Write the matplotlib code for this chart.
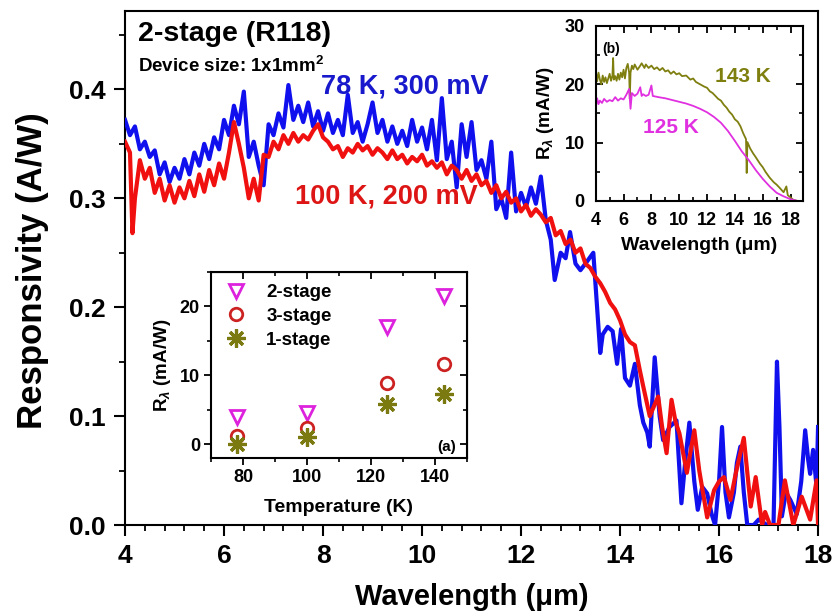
import matplotlib
matplotlib.use("Agg")
import matplotlib.pyplot as plt
from matplotlib.ticker import MultipleLocator, FixedLocator, NullFormatter

plt.rcParams['font.family'] = ['Liberation Sans', 'DejaVu Sans']
plt.rcParams['font.weight'] = 'bold'
plt.rcParams['mathtext.fontset'] = 'custom'
plt.rcParams['mathtext.rm'] = 'Liberation Sans:bold'
plt.rcParams['mathtext.it'] = 'Liberation Sans:bold:italic'
plt.rcParams['mathtext.bf'] = 'Liberation Sans:bold'

# ---------------- main spectra (A/W) ----------------
wl_78K = [4.0, 4.1, 4.2, 4.3, 4.4, 4.5, 4.6, 4.7, 4.8, 4.9, 5.0, 5.1, 5.2, 5.3, 5.4, 5.5,
          5.6, 5.7, 5.8, 5.9, 6.0, 6.1, 6.2, 6.3, 6.4, 6.5, 6.6, 6.7, 6.8, 6.9, 7.0, 7.1,
          7.2, 7.3, 7.4, 7.5, 7.6, 7.7, 7.8, 7.9, 8.0, 8.1, 8.2, 8.3, 8.4, 8.5, 8.6, 8.7,
          8.8, 8.9, 9.0, 9.1, 9.2, 9.3, 9.4, 9.5, 9.6, 9.7, 9.8, 9.9, 10.0, 10.1, 10.2,
          10.3, 10.4, 10.5, 10.6, 10.7, 10.8, 10.9, 11.0, 11.1, 11.2, 11.3, 11.4, 11.5,
          11.6, 11.7, 11.8, 11.9, 12.0, 12.1, 12.2, 12.3, 12.4, 12.5, 12.6, 12.68, 12.8,
          12.9, 12.99, 13.1, 13.2, 13.3, 13.46, 13.55, 13.6, 13.65, 13.75, 13.85, 13.94,
          14.02, 14.1, 14.2, 14.3, 14.4, 14.47, 14.55, 14.6, 14.7, 14.8, 14.87, 15.0,
          15.14, 15.24, 15.32, 15.4, 15.5, 15.57, 15.66, 15.76, 15.85, 15.92, 16.0, 16.06,
          16.13, 16.2, 16.3, 16.36, 16.43, 16.5, 16.57, 16.7, 16.8, 16.97, 17.1, 17.17,
          17.22, 17.27, 17.35, 17.44, 17.57, 17.66, 17.74, 17.8, 17.84, 17.9, 17.97, 18.0]
r_78K = [0.372, 0.358, 0.366, 0.345, 0.352, 0.338, 0.344, 0.322, 0.333, 0.315, 0.328, 0.318,
         0.336, 0.322, 0.342, 0.330, 0.350, 0.336, 0.356, 0.345, 0.372, 0.358, 0.385, 0.368,
         0.398, 0.338, 0.352, 0.330, 0.312, 0.368, 0.358, 0.378, 0.365, 0.404, 0.372, 0.385,
         0.370, 0.388, 0.366, 0.380, 0.362, 0.378, 0.360, 0.372, 0.358, 0.395, 0.360, 0.370,
         0.352, 0.368, 0.388, 0.360, 0.372, 0.352, 0.366, 0.350, 0.362, 0.348, 0.372, 0.352,
         0.365, 0.345, 0.372, 0.335, 0.392, 0.336, 0.352, 0.310, 0.368, 0.338, 0.370, 0.326,
         0.335, 0.318, 0.352, 0.290, 0.300, 0.282, 0.342, 0.288, 0.305, 0.292, 0.310, 0.295,
         0.320, 0.280, 0.262, 0.225, 0.250, 0.245, 0.269, 0.240, 0.234, 0.240, 0.250, 0.190,
         0.158, 0.175, 0.182, 0.178, 0.148, 0.180, 0.135, 0.128, 0.148, 0.110, 0.094, 0.085,
         0.072, 0.154, 0.100, 0.078, 0.090, 0.096, 0.020, 0.060, 0.094, 0.040, 0.014, 0.035,
         0.029, 0.010, 0.000, 0.040, 0.090, 0.030, 0.007, 0.030, 0.057, 0.072, 0.030, 0.000,
         0.000, 0.005, 0.000, 0.000, 0.150, 0.090, 0.008, 0.030, 0.023, 0.010, 0.040, 0.087,
         0.060, 0.047, 0.069, 0.035, 0.090]

wl_100K = [4.0, 4.1, 4.15, 4.2, 4.3, 4.4, 4.5, 4.6, 4.7, 4.8, 4.9, 5.0, 5.1, 5.2, 5.3, 5.4,
           5.5, 5.6, 5.7, 5.8, 5.9, 6.0, 6.1, 6.2, 6.3, 6.4, 6.5, 6.6, 6.7, 6.8, 6.9, 7.0,
           7.1, 7.2, 7.3, 7.4, 7.5, 7.6, 7.7, 7.8, 7.9, 8.0, 8.1, 8.2, 8.3, 8.4, 8.5, 8.6,
           8.7, 8.8, 8.9, 9.0, 9.1, 9.2, 9.3, 9.4, 9.5, 9.6, 9.7, 9.8, 9.9, 10.0, 10.1,
           10.2, 10.3, 10.4, 10.5, 10.6, 10.7, 10.8, 10.9, 11.0, 11.1, 11.2, 11.3, 11.4,
           11.5, 11.6, 11.7, 11.8, 11.9, 12.0, 12.1, 12.2, 12.3, 12.4, 12.5, 12.6, 12.7,
           12.8, 12.9, 13.0, 13.1, 13.2, 13.3, 13.4, 13.5, 13.6, 13.7, 13.8, 13.9, 14.0,
           14.1, 14.2, 14.3, 14.4, 14.47, 14.6, 14.77, 14.85, 14.94, 15.04, 15.12, 15.2,
           15.35, 15.5, 15.6, 15.76, 15.9, 16.0, 16.1, 16.23, 16.35, 16.5, 16.64, 16.74,
           16.87, 16.93, 17.03, 17.2, 17.33, 17.5, 17.67, 17.84, 17.97, 18.0]
r_100K = [0.352, 0.342, 0.268, 0.300, 0.335, 0.318, 0.328, 0.305, 0.318, 0.298, 0.312, 0.296,
          0.310, 0.300, 0.316, 0.302, 0.322, 0.306, 0.326, 0.312, 0.332, 0.318, 0.342, 0.370,
          0.350, 0.328, 0.300, 0.318, 0.298, 0.340, 0.338, 0.352, 0.345, 0.358, 0.350, 0.360,
          0.352, 0.358, 0.354, 0.362, 0.368, 0.356, 0.352, 0.345, 0.348, 0.338, 0.346, 0.342,
          0.350, 0.344, 0.348, 0.340, 0.346, 0.342, 0.336, 0.344, 0.336, 0.340, 0.332, 0.338,
          0.334, 0.340, 0.330, 0.334, 0.328, 0.333, 0.322, 0.330, 0.326, 0.318, 0.326, 0.316,
          0.322, 0.312, 0.316, 0.305, 0.312, 0.300, 0.306, 0.296, 0.300, 0.288, 0.294, 0.284,
          0.290, 0.285, 0.278, 0.282, 0.266, 0.270, 0.258, 0.262, 0.250, 0.254, 0.240, 0.236,
          0.228, 0.222, 0.214, 0.204, 0.198, 0.188, 0.175, 0.168, 0.165, 0.142, 0.127, 0.100,
          0.118, 0.090, 0.066, 0.115, 0.095, 0.084, 0.048, 0.087, 0.050, 0.007, 0.032, 0.040,
          0.044, 0.023, 0.050, 0.080, 0.017, 0.044, 0.000, 0.012, 0.000, 0.000, 0.041, 0.000,
          0.026, 0.005, 0.041, 0.000]

# ---------------- inset (a): responsivity vs temperature (mA/W) ----------------
temps = [78, 100, 125, 143]
r_2stage = [4.0, 4.5, 17.0, 21.5]
r_3stage = [1.2, 2.3, 8.9, 11.7]
r_1stage = [0.0, 1.1, 5.9, 7.3]

# ---------------- inset (b): 1-stage spectra (mA/W) ----------------
wl_143K = [4.0, 4.1, 4.2, 4.3, 4.4, 4.5, 4.6, 4.7, 4.8, 4.9, 5.0, 5.1, 5.2, 5.25, 5.3, 5.4,
           5.5, 5.6, 5.7, 5.8, 5.9, 6.0, 6.1, 6.2, 6.3, 6.4, 6.45, 6.5, 6.6, 6.7, 6.8,
           7.0, 7.2, 7.3, 7.5, 7.6, 7.8, 8.0, 8.2, 8.4, 8.6, 8.8, 9.0, 9.2, 9.4, 9.6, 9.8,
           10.0, 10.2, 10.5, 10.8, 11.0, 11.2, 11.5, 11.8, 12.0, 12.2, 12.4, 12.6, 12.8,
           13.0, 13.2, 13.4, 13.6, 13.8, 14.0, 14.2, 14.4, 14.6, 14.8, 14.85, 14.9, 15.1,
           15.3, 15.5, 15.8, 16.0, 16.2, 16.5, 16.8, 17.0, 17.2, 17.5, 17.7, 17.8, 18.0,
           18.2, 18.5, 18.9]
r_143K = [22.5, 20.5, 22.0, 20.8, 20.0, 21.5, 20.4, 21.2, 20.2, 21.0, 21.8, 20.6, 21.5, 24.5,
          20.8, 21.4, 20.6, 21.8, 20.8, 22.0, 21.2, 22.5, 21.0, 22.8, 23.5, 22.0, 17.5, 22.0,
          23.2, 22.6, 23.4, 22.5, 23.2, 23.6, 22.8, 23.4, 22.8, 23.2, 22.6, 22.9, 22.4, 22.8,
          22.2, 22.4, 21.8, 22.2, 21.7, 21.9, 21.4, 21.5, 20.8, 21.0, 20.4, 20.0, 19.6, 19.4,
          18.8, 18.5, 18.0, 17.5, 17.2, 16.5, 16.0, 15.3, 14.8, 14.0, 13.6, 12.8, 11.6, 10.6,
          4.8, 10.1, 9.0, 8.2, 7.5, 6.4, 5.8, 5.0, 4.0, 3.2, 2.8, 2.3, 1.5, 2.5, 1.0, 0.6,
          0.2, 0.0, 0.0]

wl_125K = [4.0, 4.1, 4.2, 4.3, 4.45, 4.6, 4.8, 5.0, 5.2, 5.4, 5.6, 5.8, 6.0, 6.2, 6.4, 6.5,
           6.6, 6.8, 7.0, 7.2, 7.3, 7.4, 7.6, 7.8, 8.0, 8.1, 8.3, 8.5, 9.0, 9.5, 10.0, 10.5,
           11.0, 11.5, 12.0, 12.5, 13.0, 13.5, 14.0, 14.5, 15.0, 15.5, 16.0, 16.5, 17.0,
           17.5, 18.0, 18.5, 18.9]
r_125K = [16.0, 17.6, 16.6, 17.2, 16.8, 17.5, 17.0, 17.3, 17.1, 17.8, 17.2, 17.6, 17.4, 18.2,
          19.2, 15.8, 18.5, 18.0, 18.4, 19.5, 18.0, 18.3, 18.0, 18.2, 19.8, 18.0, 17.9, 17.8,
          17.6, 17.3, 17.0, 16.7, 16.3, 15.8, 15.2, 14.4, 13.4, 12.0, 10.3, 8.5, 7.0, 5.3,
          3.8, 2.5, 1.4, 0.8, 0.3, 0.0, 0.0]

# ---------------- figure ----------------
fig = plt.figure(figsize=(8.38, 6.15), dpi=100)
ax = fig.add_axes([0.1492, 0.1463, 0.827, 0.8358])

ax.plot(wl_78K, r_78K, color='#1010ee', lw=3.0, zorder=3)
ax.plot(wl_100K, r_100K, color='#f01010', lw=3.0, zorder=4)
ax.set_xlim(4, 18)
ax.set_ylim(0, 0.472)
ax.xaxis.set_major_locator(MultipleLocator(2))
ax.xaxis.set_minor_locator(MultipleLocator(0.4))
ax.yaxis.set_major_locator(MultipleLocator(0.1))
ax.yaxis.set_minor_locator(MultipleLocator(0.05))
ax.yaxis.set_major_formatter(plt.FuncFormatter(lambda v, p: f"{v:.1f}"))
ax.tick_params(axis='both', which='major', direction='out', length=8, width=1.5,
               labelsize=19, pad=6)
ax.tick_params(axis='both', which='minor', direction='out', length=4.5, width=1.3)
for s in ax.spines.values():
    s.set_linewidth(1.5)
ax.set_xlabel('Wavelength (\u03bcm)', fontsize=21, fontweight='bold')
ax.xaxis.set_label_coords(0.5, -0.113)
ax.set_ylabel('Responsivity (A/W)', fontsize=25, fontweight='bold')
ax.yaxis.set_label_coords(-0.110, 0.494)

ax.text(0.018, 0.955, '2-stage (R118)', transform=ax.transAxes, fontsize=20.5,
        fontweight='bold', ha='left', va='center')
ax.text(0.018, 0.893, 'Device size: 1x1mm$^2$', transform=ax.transAxes, fontsize=13.5,
        fontweight='bold', ha='left', va='center')
ax.text(0.283, 0.853, '78 K, 300 mV', transform=ax.transAxes, fontsize=19.5,
        fontweight='bold', color='#1818cc', ha='left', va='center')
ax.text(0.245, 0.640, '100 K, 200 mV', transform=ax.transAxes, fontsize=19.5,
        fontweight='bold', color='#dd1515', ha='left', va='center')

# ---------------- inset (a) ----------------
axa = fig.add_axes([0.2518, 0.2553, 0.305, 0.3024])
axa.plot(temps, r_2stage, linestyle='none', marker='v', ms=10, mfc='none', mec='#dd22dd',
         mew=2.0, label='2-stage')
axa.plot(temps, r_3stage, linestyle='none', marker='o', ms=9, mfc='none', mec='#cc2222',
         mew=2.0, label='3-stage')
axa.plot(temps, r_1stage, linestyle='none', marker=(8, 2, 0), ms=13, mfc='none',
         mec='#7a7a10', mew=2.3, label='1-stage')
axa.set_xlim(70, 150)
axa.set_ylim(-2, 25)
axa.xaxis.set_major_locator(FixedLocator([80, 100, 120, 140]))
axa.xaxis.set_minor_locator(FixedLocator([70, 90, 110, 130, 150]))
axa.yaxis.set_major_locator(MultipleLocator(10))
axa.yaxis.set_minor_locator(MultipleLocator(5))
axa.tick_params(which='major', direction='out', length=5, width=1.3, labelsize=13, pad=3)
axa.tick_params(which='minor', direction='out', length=3, width=1.2)
for s in axa.spines.values():
    s.set_linewidth(1.5)
sx = axa.secondary_xaxis('top')
sx.xaxis.set_major_locator(FixedLocator([80, 100, 120, 140]))
sx.xaxis.set_minor_locator(FixedLocator([90, 110, 130]))
sx.xaxis.set_major_formatter(NullFormatter())
sx.tick_params(which='major', direction='in', length=5, width=1.3)
sx.tick_params(which='minor', direction='in', length=3, width=1.2)
sy = axa.secondary_yaxis('right')
sy.yaxis.set_major_locator(MultipleLocator(10))
sy.yaxis.set_minor_locator(MultipleLocator(5))
sy.yaxis.set_major_formatter(NullFormatter())
sy.tick_params(which='major', direction='in', length=5, width=1.3)
sy.tick_params(which='minor', direction='in', length=3, width=1.2)
axa.set_xlabel('Temperature (K)', fontsize=14, fontweight='bold', labelpad=9)
axa.set_ylabel('R$_{\u03bb}$ (mA/W)', fontsize=13.5, fontweight='bold', labelpad=5)
axa.text(0.96, 0.06, '(a)', transform=axa.transAxes, fontsize=11, fontweight='bold',
         ha='right', va='center')
leg = axa.legend(loc='upper left', frameon=False, fontsize=13.5, handletextpad=0.9,
                 borderaxespad=0.35, borderpad=0.3, labelspacing=0.35, handlelength=1.4)

# ---------------- inset (b) ----------------
axb = fig.add_axes([0.7109, 0.6732, 0.2474, 0.2846])
axb.plot(wl_143K, r_143K, color='#7f7f10', lw=1.3)
axb.plot(wl_125K, r_125K, color='#e030e0', lw=1.3)
axb.set_xlim(4, 18.9)
axb.set_ylim(0, 30)
axb.xaxis.set_major_locator(MultipleLocator(2))
axb.xaxis.set_minor_locator(MultipleLocator(1))
axb.yaxis.set_major_locator(MultipleLocator(10))
axb.yaxis.set_minor_locator(MultipleLocator(5))
axb.tick_params(which='major', direction='in', length=5, width=1.3, labelsize=13, pad=8)
axb.tick_params(which='minor', direction='in', length=3, width=1.2)
axb.tick_params(which='both', top=True, right=True)
for s in axb.spines.values():
    s.set_linewidth(1.5)
axb.set_xlabel('Wavelength (\u03bcm)', fontsize=14, fontweight='bold', labelpad=6)
axb.set_ylabel('R$_{\u03bb}$ (mA/W)', fontsize=13.5, fontweight='bold', labelpad=6)
axb.text(0.03, 0.87, '(b)', transform=axb.transAxes, fontsize=10, fontweight='bold',
         ha='left', va='center')
axb.text(0.575, 0.71, '143 K', transform=axb.transAxes, fontsize=15, fontweight='bold',
         color='#7f7f10', ha='left', va='center')
axb.text(0.23, 0.42, '125 K', transform=axb.transAxes, fontsize=15, fontweight='bold',
         color='#e030e0', ha='left', va='center')

fig.savefig('out.png', dpi=100)
